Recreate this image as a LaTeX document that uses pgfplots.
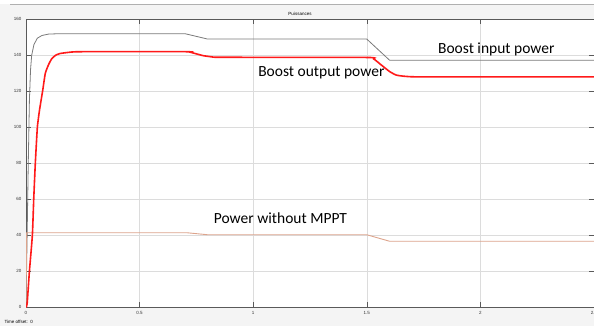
\documentclass[border=0pt]{standalone}
\usepackage{pgfplots}
\pgfplotsset{compat=1.18}
\usepackage{fontspec}
\setmainfont{Liberation Sans}
\newfontfamily\annot{Carlito}
\definecolor{bgc}{HTML}{F4F4F4}
\definecolor{gridc}{HTML}{DCDCDC}
\definecolor{axc}{HTML}{5A5A5A}
\definecolor{grayline}{HTML}{7A7A7A}
\definecolor{redline}{HTML}{FF1A1A}
\definecolor{orangeline}{HTML}{DDA48C}
\begin{document}
\begin{tikzpicture}
\path[use as bounding box] (0pt,0pt) rectangle (594pt,326pt);
\fill[white] (0pt,0pt) rectangle (594pt,326pt);
\fill[bgc] (0pt,0pt) rectangle (594pt,322pt);
\draw[gridc!80!black, line width=0.6pt] (10pt,322pt) -- (594pt,322pt);
\node[font=\fontsize{4.5}{5}\selectfont] at (300pt,312pt) {Puissances};
\node[font=\fontsize{4.5}{5}\selectfont, anchor=west] at (1pt,4pt) {Time offset:\ \ 0};
\begin{axis}[
  at={(26pt,18.7pt)}, anchor=south west,
  scale only axis, width=568pt, height=288pt,
  xmin=0, xmax=2.5, ymin=0, ymax=160,
  xtick={0,0.5,1,1.5,2,2.5},
  ytick={0,20,40,60,80,100,120,140,160},
  xticklabels={0,0.5,1,1.5,2,2.5},
  grid=major,
  major grid style={gridc, line width=0.6pt},
  axis line style={axc, line width=0.6pt},
  tick style={axc, line width=0.6pt},
  tick align=inside, major tick length=5pt,
  ticklabel style={font=\fontsize{4.5}{5}\selectfont, text=black!80},
  /pgf/number format/assume math mode=true,
  yticklabel style={xshift=-1pt},
  xticklabel style={yshift=-1pt},
  axis background/.style={fill=white},
  clip=true,
]
\addplot[grayline, line width=0.8pt] coordinates {
(0,0) (0.005,40) (0.01,80) (0.015,115) (0.02,132) (0.025,140) (0.035,146) (0.05,149.5) (0.07,151) (0.1,151.8) (0.15,152) (0.7,152) (0.8,149) (1.5,149) (1.6,137.3) (2.5,137.3)};
\addplot[orangeline, line width=0.9pt] coordinates {
(0,0) (0.003,41.4) (0.71,41.4) (0.8,40.3) (1.5,40.3) (1.6,36.7) (2.5,36.7)};
\addplot[redline, line width=1.6pt, smooth, tension=0.3] coordinates {
(0,0) (0.005,2) (0.015,20) (0.028,40) (0.034,60) (0.041,80) (0.05,100) (0.06,110) (0.073,120) (0.085,130) (0.1,135) (0.113,138) (0.13,140) (0.15,141) (0.2,141.8) (0.25,142) (0.7,142) (0.72,141.8) (0.75,140.8) (0.78,139.8) (0.82,139.1) (0.86,138.9) (1.5,138.8) (1.53,138) (1.56,135) (1.6,131) (1.63,129) (1.67,128.3) (1.75,128) (2.5,128)};
\node[font=\annot\fontsize{15.5}{17}\selectfont] at (axis cs:2.07,143.5) {Boost input power};
\node[font=\annot\fontsize{15.5}{17}\selectfont] at (axis cs:1.30,130.5) {Boost output power};
\node[font=\annot\fontsize{15.5}{17}\selectfont] at (axis cs:1.12,49.5) {Power without MPPT};
\end{axis}
\end{tikzpicture}
\end{document}
